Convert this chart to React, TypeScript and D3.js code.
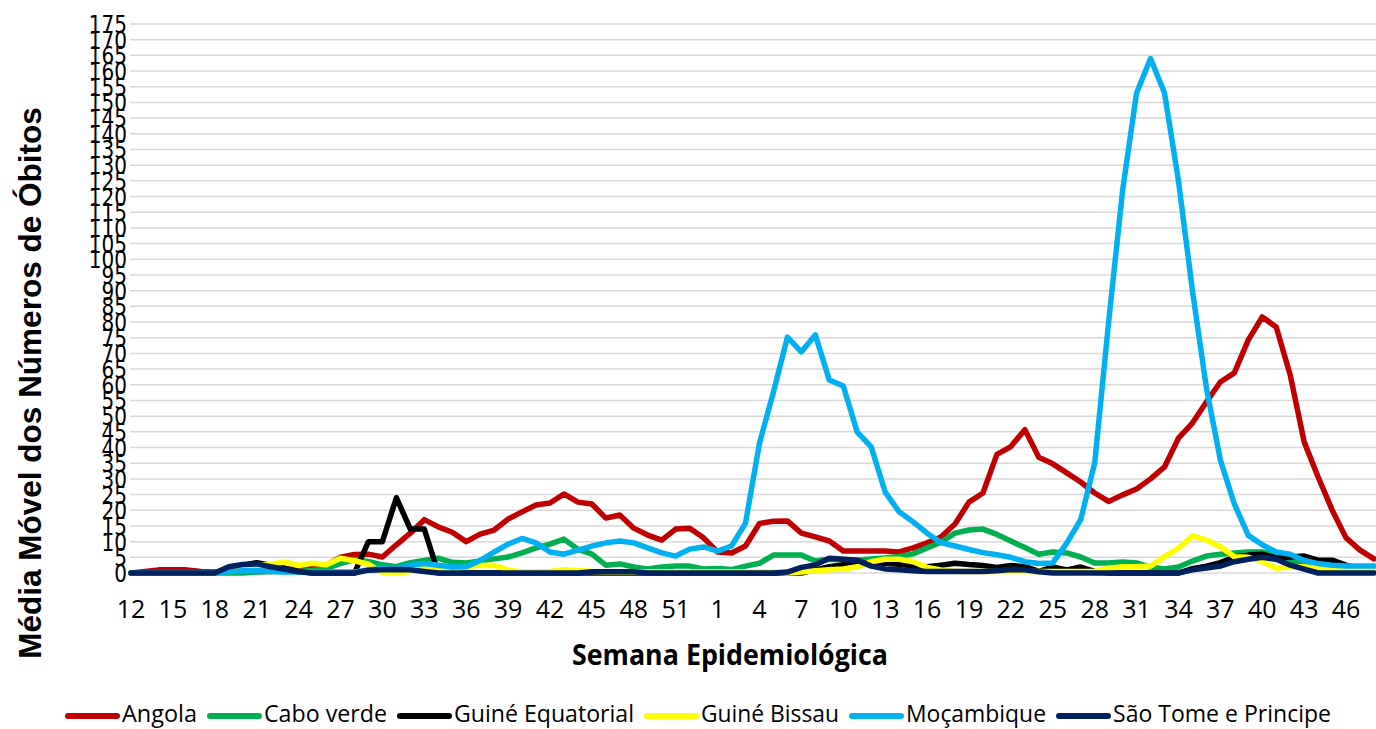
import React from 'react';
import * as d3 from 'd3';

const W = 1376;
const H = 729;

// semanas epidemiológicas: 2020 (12..53) e 2021 (1..48)
const weeks = [
  12, 13, 14, 15, 16, 17, 18, 19, 20, 21, 22, 23, 24, 25, 26, 27, 28, 29, 30, 31, 32,
  33, 34, 35, 36, 37, 38, 39, 40, 41, 42, 43, 44, 45, 46, 47, 48, 49, 50, 51, 52, 53,
  1, 2, 3, 4, 5, 6, 7, 8, 9, 10, 11, 12, 13, 14, 15, 16, 17, 18, 19, 20, 21, 22, 23, 24,
  25, 26, 27, 28, 29, 30, 31, 32, 33, 34, 35, 36, 37, 38, 39, 40, 41, 42, 43, 44, 45, 46, 47, 48,
];

const angola = [
  0, 0.5, 1, 1, 1, 0.5, 0.3, 0.5, 0.5, 0.5,
  0.5, 1, 1.5, 2, 2.5, 5, 5.9, 6, 5.1, 9,
  12.7, 17, 14.7, 13, 10, 12.4, 13.7, 17.2, 19.5, 21.7,
  22.3, 25.2, 22.6, 22, 17.5, 18.5, 14.3, 12.1, 10.5, 14,
  14.3, 11.2, 6.7, 6.4, 8.6, 15.8, 16.5, 16.6, 12.7, 11.5,
  10.2, 7, 7, 7, 7, 6.7, 8, 9.6, 11.5, 15.6,
  22.6, 25.5, 37.8, 40.3, 45.7, 36.9, 34.8, 31.9, 29, 25.5,
  22.8, 24.9, 26.8, 30, 33.8, 43, 47.8, 54.5, 60.9, 63.8,
  74.3, 81.6, 78.4, 63.1, 41.8, 30.6, 20.1, 11.2, 7.3, 4.5,
];

const caboVerde = [
  0, 0, 0, 0, 0, 0, 0, 0, 0, 0.3,
  0.5, 0.5, 0.5, 0.8, 1.5, 3, 4.3, 3.7, 2.6, 2,
  3.3, 4, 4.7, 3.4, 3.2, 3.8, 4.5, 5.1, 6.4, 8,
  9.2, 10.8, 7.6, 6, 2.5, 2.9, 1.9, 1.3, 1.9, 2.2,
  2.2, 1.3, 1.4, 1.1, 2.2, 3.1, 5.7, 5.7, 5.7, 3.8,
  4.4, 4.3, 4.1, 4.5, 4.8, 5.3, 6.1, 8, 9.8, 12.7,
  13.7, 14, 12.3, 10.2, 8.1, 6, 6.7, 6.4, 5.1, 3.2,
  3.2, 3.5, 3.2, 1.9, 1.3, 1.9, 3.8, 5.4, 6, 6.4,
  6.7, 6.7, 5.5, 4, 3, 2, 2, 2, 2, 2,
];

const guineEquatorial = [
  0, 0, 0, 0, 0, 0, 0, 1.5, 2.5, 3.3,
  2.5, 1.5, 0.5, 0, 0, 0, 0, 10, 10, 24,
  14, 14, 0, 0, 0, 0, 0, 0, 0, 0,
  0, 0, 0, 0, 0, 0, 0, 0, 0, 0,
  0, 0, 0, 0, 0, 0, 0, 0, 0, 1,
  2, 2.6, 3.1, 3.3, 3.1, 2.8, 2.2, 2, 2.5, 3.1,
  2.7, 2.4, 1.8, 2.4, 2, 0.5, 1.9, 1, 1.9, 0.5,
  0, 0, 0, 0, 0, 0, 1.4, 2.2, 3.3, 5.1,
  5.7, 6, 4.8, 5.1, 5.4, 4.1, 4.1, 2.5, 1.3, 1,
];

const guineBissau = [
  0, 0, 0, 0, 0, 0, 0, 1, 1.8, 2.5,
  2.8, 3.5, 2.4, 3.1, 2.6, 4.7, 3.9, 2.8, 0.2, 0,
  0.5, 1.5, 1.3, 1, 2, 2.5, 2.4, 1, 0.3, 0.3,
  0.5, 1, 0.8, 0.5, 0.3, 0.3, 0.3, 0.3, 0.3, 0.3,
  0.3, 0.3, 0.3, 0.3, 0.3, 0.3, 0.3, 0, 0.3, 0.7,
  1, 1.3, 2, 3.6, 4.4, 4.4, 3.6, 1.8, 1, 0.5,
  0.5, 0.5, 0.5, 0.5, 0.5, 0.5, 0.5, 0.5, 0.5, 0.5,
  1.5, 2, 2, 2.2, 5.2, 7.9, 11.8, 10.5, 8.4, 5.2,
  5, 3.6, 1.5, 2, 2, 1.5, 1.5, 1.5, 1.5, 1.5,
];

const mocambique = [
  0, 0, 0, 0, 0, 0, 0, 0.5, 0.7, 0.8,
  0.5, 0.3, 0.3, 0.3, 0.3, 0.3, 0.3, 1, 1.5, 1.5,
  2.5, 3, 2.5, 1.9, 2, 4, 6.7, 9.2, 11, 9.6,
  6.7, 6, 7.3, 8.6, 9.6, 10.2, 9.6, 8, 6.4, 5.4,
  7.6, 8.3, 7, 8.6, 15.9, 41.4, 57.7, 75.2, 70.5, 75.9,
  61.5, 59.6, 44.9, 40.2, 25.8, 19.5, 16.3, 12.7, 9.7, 8.6,
  7.5, 6.5, 5.8, 5, 3.6, 3, 3.2, 9.5, 17, 35,
  80, 122, 153, 164, 153, 125, 90, 59, 36, 22,
  12, 9, 6.7, 6, 4, 3, 2.5, 2.2, 2.2, 2.2,
];

const saoTome = [
  0, 0, 0, 0, 0, 0, 0, 2, 2.7, 2.9,
  2, 1.2, 0.4, 0, 0, 0, 0, 0.9, 1, 1.1,
  1, 0.5, 0, 0, 0, 0, 0, 0, 0, 0,
  0, 0, 0, 0.4, 0.4, 0.4, 0.4, 0, 0, 0,
  0, 0, 0, 0, 0, 0, 0, 0.3, 1.8, 2.6,
  4.7, 4.4, 4.1, 2.2, 1.3, 1, 0.7, 0.5, 0.5, 0.5,
  0.5, 0.5, 0.7, 1.1, 1, 0.4, 0, 0, 0, 0,
  0, 0, 0, 0, 0, 0, 1, 1.6, 2.2, 3.6,
  4.4, 5, 4.4, 2.5, 1.2, 0, 0, 0, 0, 0,
];

const seriesNames = [
  'Angola', 'Cabo verde', 'Guiné Equatorial', 'Guiné Bissau', 'Moçambique', 'São Tome e Principe',
];
const seriesValues = [angola, caboVerde, guineEquatorial, guineBissau, mocambique, saoTome];
const colors = ['#C00000', '#00B050', '#000000', '#FFFF00', '#00B0F0', '#002060'];

const yTicks = d3.range(0, 176, 5);

// legend item text widths (px), as rendered in the original
const legendTextW = [75, 123, 180, 138, 140, 218];

export default function App() {
  const x = d3.scaleLinear().domain([0, weeks.length - 1]).range([131, 1374]);
  const y = d3.scaleLinear().domain([0, 175]).range([573, 24]);

  const line = d3
    .line<number>()
    .x((_, i) => x(i))
    .y((d) => y(d));

  // legend positions
  let cx = 65;
  const legend = seriesNames.map((name, i) => {
    const item = { name, color: colors[i], x0: cx, tx: cx + 57, tw: legendTextW[i] };
    cx = item.tx + item.tw + 10;
    return item;
  });

  return (
    <svg
      width={W}
      height={H}
      style={{ position: 'absolute', left: 0, top: 0, background: '#fff' }}
    >
      {/* gridlines */}
      <g>
        {yTicks.map((t) => (
          <line key={t} x1={130} x2={W} y1={y(t)} y2={y(t)} stroke="#D9D9D9" strokeWidth={1.5} />
        ))}
      </g>

      {/* y tick labels */}
      <g fontFamily="DejaVu Sans" fontSize={25} fill="#000">
        {yTicks.map((t) => (
          <text key={t} transform={`translate(127,${y(t) + 9}) scale(0.8,1)`} textAnchor="end">
            {t}
          </text>
        ))}
      </g>

      {/* x tick labels */}
      <g fontFamily="'Open Sans'" fontSize={25} fill="#000" textAnchor="middle">
        {weeks.map((w, i) =>
          i % 3 === 0 ? (
            <text key={i} x={x(i)} y={618}>
              {w}
            </text>
          ) : null
        )}
      </g>

      {/* series */}
      <g fill="none" strokeWidth={5.5} strokeLinejoin="round" strokeLinecap="round">
        {seriesValues.map((vals, i) => (
          <path key={seriesNames[i]} d={line(vals) || ''} stroke={colors[i]} />
        ))}
      </g>

      {/* axis titles */}
      <text
        transform="translate(41,383) rotate(-90)"
        textAnchor="middle"
        fontFamily="'Liberation Sans', Arial, sans-serif"
        fontWeight="bold"
        fontSize={31.5}
      >
        Média Móvel dos Números de Óbitos
      </text>
      <text
        x={572}
        y={665}
        fontFamily="'Open Sans'"
        fontWeight="bold"
        fontSize={28}
        textLength={316}
        lengthAdjust="spacingAndGlyphs"
      >
        Semana Epidemiológica
      </text>

      {/* legend */}
      <g fontFamily="'Open Sans'" fontSize={23}>
        {legend.map((d) => (
          <g key={d.name}>
            <line
              x1={d.x0 + 3}
              x2={d.x0 + 52}
              y1={716}
              y2={716}
              stroke={d.color}
              strokeWidth={6}
              strokeLinecap="round"
            />
            <text x={d.tx} y={722} textLength={d.tw} lengthAdjust="spacingAndGlyphs">
              {d.name}
            </text>
          </g>
        ))}
      </g>
    </svg>
  );
}
